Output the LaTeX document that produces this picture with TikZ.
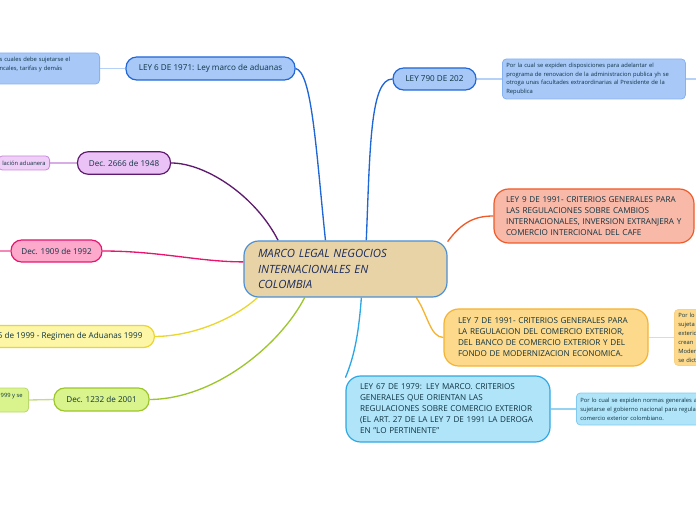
\documentclass[tikz,border=0pt]{standalone}
\usepackage{fontspec}
\setmainfont{Open Sans}
\usetikzlibrary{backgrounds}

\definecolor{txt}{HTML}{0F3342}
\definecolor{hubtxt}{HTML}{1B2B5C}
\definecolor{hubfill}{HTML}{E8D3A7}
\definecolor{hubline}{HTML}{4A8FD8}
\definecolor{bluefill}{HTML}{A8C8F8}
\definecolor{blueline}{HTML}{1F66D6}
\definecolor{blueleaf}{HTML}{86B2F2}
\definecolor{purplefill}{HTML}{EBC2F5}
\definecolor{purpleline}{HTML}{5E1A6E}
\definecolor{purpleleaf}{HTML}{C88ADB}
\definecolor{pinkfill}{HTML}{FCA9CC}
\definecolor{pinkline}{HTML}{E8146E}
\definecolor{yellowfill}{HTML}{FCF6A6}
\definecolor{yellowline}{HTML}{EAD62E}
\definecolor{greenfill}{HTML}{D9F48C}
\definecolor{greenline}{HTML}{9CC62C}
\definecolor{salmonfill}{HTML}{F8B9A8}
\definecolor{salmonline}{HTML}{F05A28}
\definecolor{orangefill}{HTML}{FDD98C}
\definecolor{orangeline}{HTML}{F5B332}
\definecolor{cyanfill}{HTML}{B0E4F8}
\definecolor{cyanline}{HTML}{2EA8E4}

\tikzset{
  topic/.style={draw, line width=0.9pt, rounded corners=8pt, inner sep=0pt,
    text=txt, font=\fontsize{6.1}{8.25}\selectfont},
  bigtopic/.style={topic, rounded corners=11pt, align=left, inner xsep=10.5pt},
  leaf/.style={draw, line width=0.6pt, rounded corners=3pt, inner xsep=3pt, inner ysep=0pt,
    align=left, text=txt, font=\fontsize{4.35}{6.7}\selectfont},
  branch/.style={line width=1pt},
  twig/.style={line width=1pt}
}

\begin{document}
\begin{tikzpicture}[x=0.75pt,y=-0.75pt,line join=round,line cap=round]
\useasboundingbox (0,0) rectangle (696,520);
\clip (0,0) rectangle (696,520);

% central topic
\node[bigtopic, draw=hubline, fill=hubfill, text=hubtxt, text width=131.25pt,
  minimum height=42pt, font=\fontsize{8.5}{11.5}\selectfont\itshape]
  (hub) at (345.5,269) {MARCO LEGAL NEGOCIOS\\INTERNACIONALES EN\\COLOMBIA};

% left branches
\node[topic, draw=blueline, fill=bluefill, minimum width=126.75pt, minimum height=17.25pt]
  (ley6) at (210.5,68.5) {LEY 6 DE 1971: Ley marco de aduanas};
\node[leaf, draw=blueleaf, fill=bluefill, text width=72pt, minimum height=23.25pt, anchor=east]
  (leaf6) at (100,68.5) {s cuales debe sujetarse el\\ncales, tarifas y demás\\\mbox{}};

\node[topic, draw=purpleline, fill=purplefill, minimum width=69.75pt, minimum height=16.9pt]
  (dec2666) at (124,163) {Dec. 2666 de 1948};
\node[leaf, draw=purpleleaf, fill=purplefill!80!white, minimum height=10.5pt, anchor=east]
  (leaf2666) at (50,163) {lación aduanera};

\node[topic, draw=pinkline, fill=pinkfill, minimum width=68.25pt, minimum height=16.5pt]
  (dec1909) at (56.5,251) {Dec. 1909 de 1992};
\coordinate (edge1909) at (0,251);

\node[topic, draw=yellowline, fill=yellowfill, inner xsep=9pt, minimum height=16.5pt, anchor=east]
  (dec2685) at (155,336.5) {5 de 1999 - Regimen de Aduanas 1999};

\node[topic, draw=greenline, fill=greenfill, minimum width=71.25pt, minimum height=17.25pt]
  (dec1232) at (101.5,399.5) {Dec. 1232 de 2001};
\node[leaf, draw=greenline!70, fill=greenfill, inner xsep=4.5pt, minimum height=18pt, anchor=east]
  (leaf1232) at (29,400) {999 y se\\\mbox{}};

% right branches
\node[topic, draw=blueline, fill=bluefill, minimum width=62.25pt, minimum height=16.5pt]
  (ley790) at (434.5,79) {LEY 790 DE 202};
\node[leaf, draw=blueleaf, fill=bluefill, text width=131.25pt, minimum height=30pt, anchor=west]
  (leaf790) at (502,79) {Por la cual se expiden disposiciones para adelantar el\\programa de renovacion de la administracion publica yh se\\otroga unas facultades extraordinarias al Presidente de la\\Republica};
\coordinate (edge790) at (696,79);

\node[bigtopic, draw=salmonline, fill=salmonfill, inner xsep=9pt, text width=132pt, minimum height=40.5pt]
  (ley9) at (594,216) {LEY 9 DE 1991- CRITERIOS GENERALES PARA\\LAS REGULACIONES SOBRE CAMBIOS\\INTERNACIONALES, INVERSION EXTRANJERA Y\\COMERCIO INTERCIONAL DEL CAFE};

\node[bigtopic, draw=orangeline, fill=orangefill, text width=132pt, minimum height=42.75pt]
  (ley7) at (546,337.5) {LEY 7 DE 1991- CRITERIOS GENERALES PARA\\LA REGULACION DEL COMERCIO EXTERIOR,\\DEL BANCO DE COMERCIO EXTERIOR Y DEL\\FONDO DE MODERNIZACION ECONOMICA.};
\node[leaf, draw=orangeline!60, fill=orangefill, text width=45pt, minimum height=42pt, anchor=west]
  (leaf7) at (674,337.5) {Por lo\\sujeta\\exteric\\crean\\Moder\\se dict};

\node[bigtopic, draw=cyanline, fill=cyanfill, text width=132pt, minimum height=49.5pt]
  (ley67) at (448,409) {LEY 67 DE 1979: LEY MARCO. CRITERIOS\\GENERALES QUE ORIENTAN LAS\\REGULACIONES SOBRE COMERCIO EXTERIOR\\(EL ART. 27 DE LA LEY 7 DE 1991 LA DEROGA\\EN "LO PERTINENTE"};
\node[leaf, draw=cyanline!60, fill=cyanfill, text width=120pt, minimum height=24pt, anchor=west]
  (leaf67) at (576,409) {Por lo cual se expiden normas generales a\\sujetarse el gobierno nacional para regula\\comercio exterior colombiano.};

% connectors
\begin{scope}[on background layer]
\draw[branch, blueline] (hub.125) .. controls (316,150) and (312,72) .. (ley6.east);
\draw[branch, purpleline] (hub.157) .. controls (255,195) and (205,163) .. (dec2666.east);
\draw[branch, pinkline] (hub.176) .. controls (200,262) and (160,251) .. (dec1909.east);
\draw[branch, yellowline] (hub.198) .. controls (235,318) and (195,336) .. (dec2685.east);
\draw[branch, greenline] (hub.215) .. controls (280,345) and (215,399) .. (dec1232.east);
\draw[branch, blueline] (hub.54) .. controls (370,150) and (370,79) .. (ley790.west);
\draw[branch, salmonline] (hub.15) .. controls (462,222) and (475,216) .. (ley9.west);
\draw[branch, orangeline] (hub.338) .. controls (428,315) and (430,337) .. (ley7.west);
\draw[branch, cyanline] (hub.299) .. controls (359,330) and (355,355) .. (ley67.163);

\draw[twig, blueleaf!60] (leaf6.east) -- (ley6.west);
\draw[twig, purpleleaf!70] (leaf2666.east) -- (dec2666.west);
\draw[twig, pinkline!50] (edge1909) -- (dec1909.west);
\draw[twig, greenline!60] (leaf1232.east) -- (dec1232.west);
\draw[twig, blueleaf!60] (ley790.east) -- (leaf790.west);
\draw[twig, blueleaf!60] (leaf790.east) -- (edge790);
\draw[twig, orangeline!50] (ley7.east) -- (leaf7.west);
\draw[twig, cyanline!50] (ley67.east) -- (leaf67.west);
\end{scope}

\end{tikzpicture}
\end{document}
